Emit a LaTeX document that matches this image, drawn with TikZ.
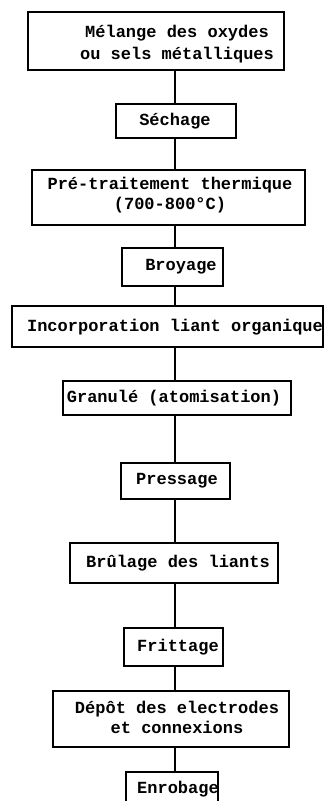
\documentclass[tikz,border=0pt]{standalone}
\usepackage{fontspec}
\setmonofont{Liberation Mono}
\begin{document}
\begin{tikzpicture}[x=1pt,y=-1pt,
  box/.style={draw, line width=1.6pt, inner sep=0pt, rectangle},
  lbl/.style={font=\ttfamily\bfseries\fontsize{17}{21}\selectfont, align=center, inner sep=0pt},
  link/.style={line width=1.4pt}]
\useasboundingbox (0,0) rectangle (324,801);
\clip (0,0) rectangle (324,801);
\coordinate (ax) at (175,0);
% boxes
\node[box, minimum width=256pt, minimum height=58pt] (b1) at (156,41) {};
\node[box, minimum width=120pt, minimum height=34pt] (b2) at (176,121) {};
\node[box, minimum width=273pt, minimum height=55pt] (b3) at (168.5,197.5) {};
\node[box, minimum width=101pt, minimum height=38pt] (b4) at (172.5,267) {};
\node[box, minimum width=311pt, minimum height=41pt] (b5) at (167.5,326.5) {};
\node[box, minimum width=228pt, minimum height=34pt] (b6) at (177,398) {};
\node[box, minimum width=109pt, minimum height=36pt] (b7) at (175.5,481) {};
\node[box, minimum width=208pt, minimum height=40pt] (b8) at (174,563) {};
\node[box, minimum width=99pt, minimum height=38pt] (b9) at (173.5,647) {};
\node[box, minimum width=236pt, minimum height=56pt] (b10) at (171,719) {};
\node[box, minimum width=92pt, minimum height=58pt] (b11) at (172,801) {};
% texts
\node[lbl, font=\ttfamily\bfseries\fontsize{17}{22}\selectfont] (t1) at (177,44) {Mélange des oxydes\\ou sels métalliques};
\node[lbl] (t2) at (175,121) {Séchage};
\node[lbl, font=\ttfamily\bfseries\fontsize{17}{20}\selectfont] (t3) at (170,195) {Pré-traitement thermique\\(700-800°C)};
\node[lbl] (t4) at (181,267) {Broyage};
\node[lbl] (t5) at (175,327) {Incorporation liant organique};
\node[lbl] (t6) at (174,398) {Granulé (atomisation)};
\node[lbl] (t7) at (177,481) {Pressage};
\node[lbl] (t8) at (178,563) {Brûlage des liants};
\node[lbl] (t9) at (178,647) {Frittage};
\node[lbl, font=\ttfamily\bfseries\fontsize{17}{20}\selectfont] (t10) at (177,717) {Dépôt des electrodes\\et connexions};
\node[lbl] (t11) at (178,789) {Enrobage};
% connectors
\foreach \a/\b in {b1/b2,b2/b3,b3/b4,b4/b5,b5/b6,b6/b7,b7/b8,b8/b9,b9/b10,b10/b11}
  \draw[link] (\a.south -| ax) -- (\b.north -| ax);
\end{tikzpicture}
\end{document}
